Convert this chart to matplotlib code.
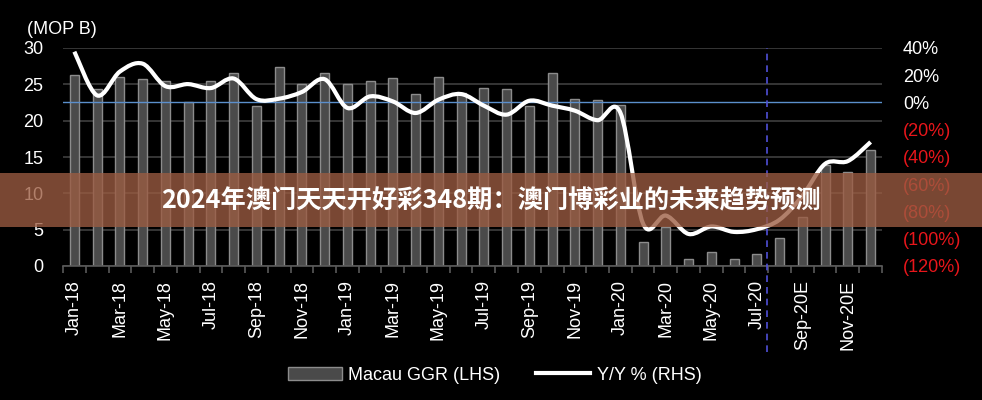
import matplotlib.pyplot as plt
import numpy as np
from matplotlib.path import Path
from matplotlib.patches import PathPatch, Rectangle, Patch
from matplotlib.lines import Line2D

# --- Data
months = ["Jan-18", "Feb-18", "Mar-18", "Apr-18", "May-18", "Jun-18",
          "Jul-18", "Aug-18", "Sep-18", "Oct-18", "Nov-18", "Dec-18",
          "Jan-19", "Feb-19", "Mar-19", "Apr-19", "May-19", "Jun-19",
          "Jul-19", "Aug-19", "Sep-19", "Oct-19", "Nov-19", "Dec-19",
          "Jan-20", "Feb-20", "Mar-20", "Apr-20", "May-20", "Jun-20",
          "Jul-20", "Aug-20", "Sep-20E", "Oct-20E", "Nov-20E", "Dec-20E"]

# Macau GGR, MOP billion (LHS)
ggr = [26.3, 24.4, 26.0, 25.8, 25.5, 22.6, 25.4, 26.6, 22.0, 27.4, 25.1, 26.6,
       25.1, 25.4, 25.9, 23.7, 26.0, 23.8, 24.5, 24.3, 22.0, 26.5, 23.0, 22.9,
       22.1, 3.3, 5.4, 0.9, 1.9, 0.9, 1.6, 3.8, 6.8, 13.9, 12.9, 16.0]

# Y/Y %, (RHS)
yoy = [37.3, 5.2, 22.7, 28.5, 12.0, 13.5, 10.6, 17.6, 2.5, 2.8, 7.7, 17.1,
       -4.0, 4.5, 0.8, -7.7, 2.0, 6.2, -2.3, -8.9, 1.3, -2.3, -6.0, -13.0,
       -7.5, -89.0, -83.0, -96.5, -91.0, -95.0, -93.0, -86.0, -68.5, -45.0,
       -43.0, -29.0]

left_ticks = [0, 5, 10, 15, 20, 25, 30]
right_ticks = [-120, -100, -80, -60, -40, -20, 0, 20, 40]

title = "2024年澳门天天开好彩348期：澳门博彩业的未来趋势预测"

plt.rcParams['font.family'] = ['Liberation Sans', 'DejaVu Sans']

x = np.arange(len(months))

fig = plt.figure(figsize=(9.82, 4.0), dpi=100, facecolor='black')
ax = fig.add_axes([63/982, 1-266/400, (882-63)/982, 218/400])
ax.set_facecolor('black')
ax2 = ax.twinx()

#--- Bars (LHS)
ax.bar(x, ggr, width=0.4, color='#4a4a4a', edgecolor='#8c8c8c', linewidth=1.0, zorder=2)
ax.set_ylim(0, 30)
ax.set_xlim(-0.5, len(months) - 0.5)
ax.set_yticks(left_ticks)
ax.yaxis.grid(True, color='#3a3a3a', linewidth=1.3)
ax.set_axisbelow(True)

# x ticks: labels every other month, small tick marks between months
ax.set_xticks(x[::2])
ax.set_xticklabels(months[::2], rotation=90)
ax.set_xticks(np.arange(-0.5, len(months)), minor=True)
ax.tick_params(axis='x', which='major', length=0, pad=10, labelsize=13, labelcolor='white')
ax.tick_params(axis='x', which='minor', length=5, width=1.2, color='#5a5a5a')
ax.tick_params(axis='y', length=0, pad=14, labelsize=13, labelcolor='white')
for s in ['top', 'left', 'right']:
    ax.spines[s].set_visible(False)
ax.spines['bottom'].set_color('#5a5a5a')
ax.spines['bottom'].set_linewidth(1.2)

#--- Smoothed Y/Y line (RHS), bezier curve through the points
ax2.set_ylim(-120, 40)
pts = np.column_stack([x, yoy]).astype(float)
verts = [tuple(pts[0])]
codes = [Path.MOVETO]
for i in range(len(pts) - 1):
    p0 = pts[max(i - 1, 0)]
    p1 = pts[i]
    p2 = pts[i + 1]
    p3 = pts[min(i + 2, len(pts) - 1)]
    c1 = p1 + (p2 - p0) / 6.0
    c2 = p2 - (p3 - p1) / 6.0
    verts += [tuple(c1), tuple(c2), tuple(p2)]
    codes += [Path.CURVE4] * 3
ax2.add_patch(PathPatch(Path(verts, codes), facecolor='none', edgecolor='white',
                        linewidth=3.0, capstyle='butt', joinstyle='round', zorder=4))

ax2.axhline(0, color='#5b8fcc', linewidth=1.0, zorder=3)
ax2.axvline(30.46, ymin=-0.394, ymax=1, color='#5050d8', linewidth=1.2,
            linestyle=(0, (4, 3)), clip_on=False, zorder=3)

ax2.set_yticks(right_ticks)
ax2.set_yticklabels([f"{v}%" if v >= 0 else f"({-v}%)" for v in right_ticks])
ax2.tick_params(axis='y', length=0, pad=15, labelsize=13)
for lbl, v in zip(ax2.get_yticklabels(), right_ticks):
    lbl.set_color('white' if v >= 0 else '#e8161b')
for s in ['top', 'left', 'right', 'bottom']:
    ax2.spines[s].set_visible(False)

fig.text(27/982, 1-30/400, "(MOP B)", color='white', fontsize=13, ha='left', va='center')

#--- Legend
handles = [Patch(facecolor='#4a4a4a', edgecolor='#8c8c8c', linewidth=1.0),
           Line2D([], [], color='white', linewidth=3.0)]
leg = fig.legend(handles, ["Macau GGR (LHS)", "Y/Y % (RHS)"], loc='center',
                 bbox_to_anchor=(0.5036, 1-375/400), ncol=2, frameon=False,
                 fontsize=13, handlelength=3.0, handletextpad=0.35, columnspacing=2.0)
for t in leg.get_texts():
    t.set_color('white')

#--- Banner over the chart
fig.patches.append(Rectangle((0, 1-227/400), 1, 54/400, transform=fig.transFigure,
                             facecolor='#9c5c42', alpha=0.78, zorder=10))
fig.text(0.4995, 1-201/400, title, color='white', fontsize=18.2, fontweight='bold',
         family=['Noto Sans CJK SC', 'DejaVu Sans'], ha='center', va='center', zorder=11)

fig.savefig("out.png", dpi=100, facecolor='black')
